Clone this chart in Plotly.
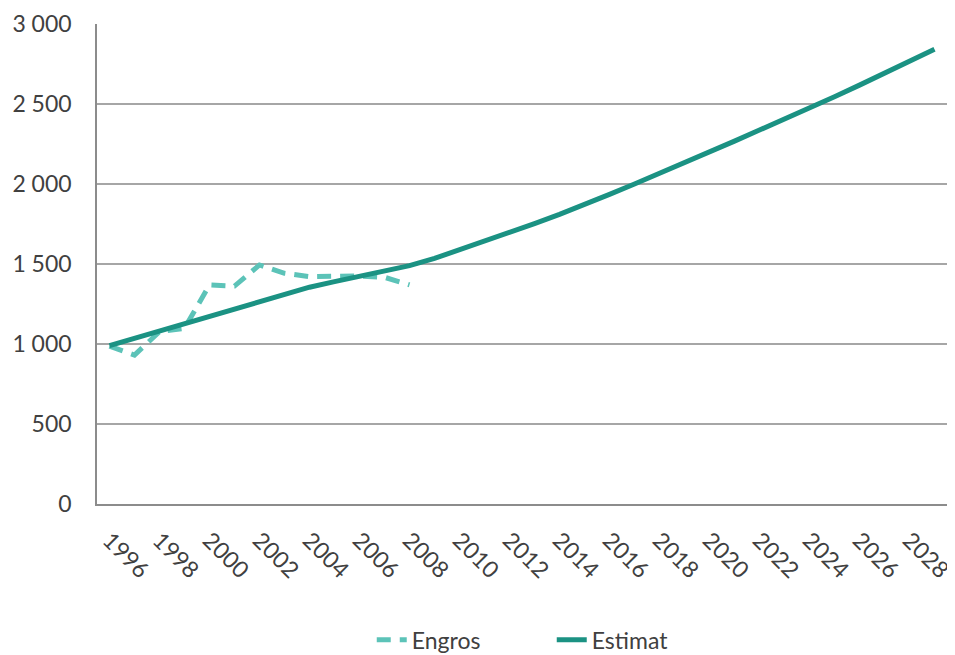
import plotly.graph_objects as go

years = [str(y) for y in range(1996, 2030)]
tick_labels = [str(y) for y in range(1996, 2030, 2)]

engros_years = [str(y) for y in range(1996, 2009)]
engros = [987, 931, 1077, 1098, 1369, 1362, 1494, 1442, 1421, 1421, 1425, 1417, 1370]

estimat = [990, 1035, 1080, 1125, 1170, 1215, 1258, 1305, 1355, 1390, 1425, 1455, 1490,
           1535, 1588, 1640, 1695, 1752, 1810, 1870, 1935, 2000, 2065, 2132, 2200,
           2268, 2337, 2405, 2475, 2545, 2618, 2690, 2765, 2842]

fig = go.Figure()
fig.add_trace(go.Scatter(x=engros_years, y=engros, name="Engros", mode="lines",
                         line=dict(color="#5cc3b8", width=5, dash="14px,9px")))
fig.add_trace(go.Scatter(x=years, y=estimat, name="Estimat", mode="lines",
                         line=dict(color="#1b9283", width=5)))

fig.update_layout(
    width=947, height=647,
    margin=dict(l=89, r=8, t=16, b=151, autoexpand=False),
    plot_bgcolor="white", paper_bgcolor="white",
    separators=", ",
    font=dict(family="Lato, Open Sans, sans-serif", size=23, color="#404040"),
    showlegend=True,
    legend=dict(orientation="h", x=0.535, xanchor="center", y=-0.283, yanchor="middle",
                font=dict(size=23), entrywidth=135),
    xaxis=dict(type="category", categoryorder="array", categoryarray=years,
               range=[-0.5, len(years) - 0.5], automargin=False,
               tickmode="array", tickvals=tick_labels, ticktext=tick_labels,
               tickangle=45, showgrid=False, showline=True, linecolor="#8c8c8c",
               linewidth=1.5, ticks="", tickfont=dict(size=23), ticklabelstandoff=12),
    yaxis=dict(range=[0, 3000], dtick=500, tickformat=",d", showgrid=True,
               gridcolor="#a6a6a6", gridwidth=1.5, showline=True, automargin=False,
               linecolor="#8c8c8c", linewidth=1.5, ticks="", zeroline=False,
               tickfont=dict(size=23), ticklabelstandoff=19),
)

fig.write_html("out.html")
